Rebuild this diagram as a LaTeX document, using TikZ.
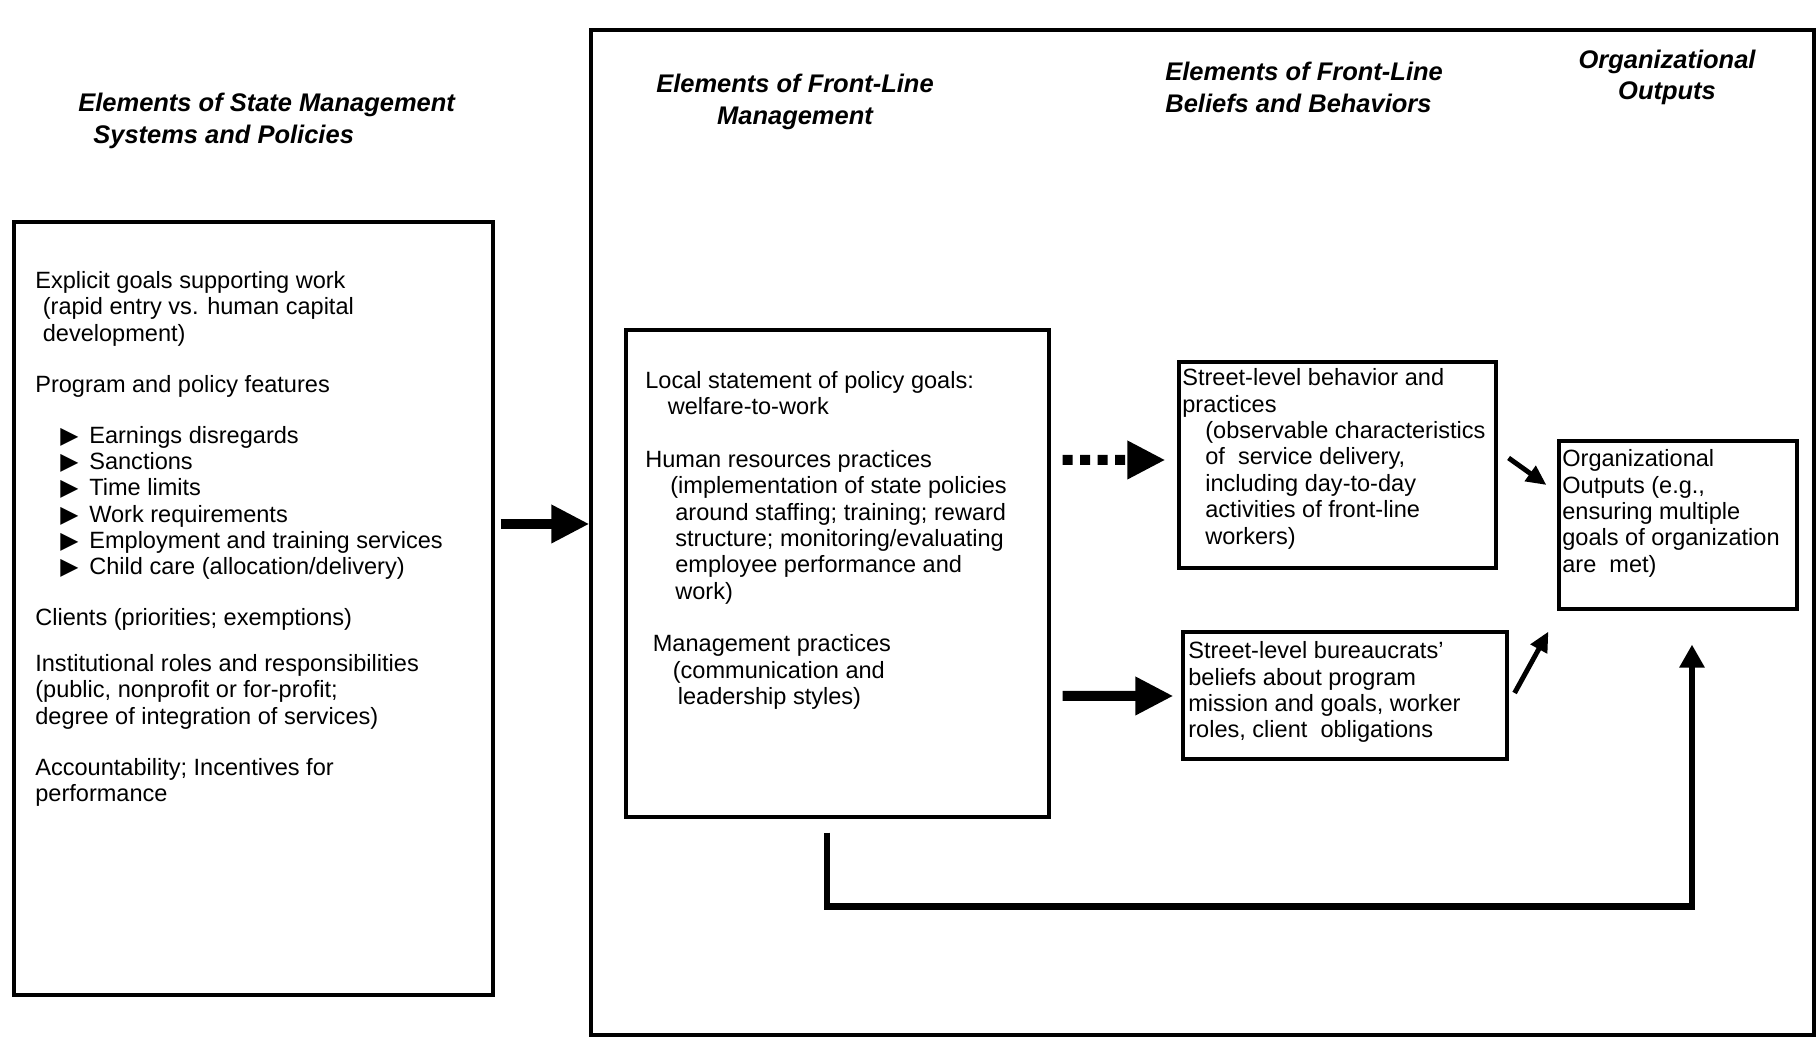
\documentclass[tikz,border=0pt]{standalone}
\usepackage{fontspec}
\setmainfont{Liberation Sans}
\newfontfamily\symfont{DejaVu Sans}
\usetikzlibrary{%
  arrows.meta,%
  calc,%
}

\newcommand{\bodytext}{\fontsize{13.4}{15}\selectfont}
\newcommand{\headtext}{\fontsize{14.5}{18}\selectfont\bfseries\itshape}
\newcommand{\featbullet}{\hspace*{0.5cm}\makebox[0.58cm][l]{\symfont ▶}}
\newcommand{\indby}[1]{\hspace*{#1cm}}

\begin{document}
\begin{tikzpicture}[
    box/.style={draw, line width=1.8pt, inner sep=0pt},
    txt/.style={anchor=north west, align=left, inner sep=0pt, font=\bodytext},
    head/.style={align=center, inner sep=0pt, font=\headtext},
    bigarrow/.style={line width=5.7pt, -{Triangle[length=0.76cm,width=0.72cm]}},
    dotarrow/.style={bigarrow, dash pattern=on 0.2cm off 0.15cm},
    smallarrow/.style={line width=2.8pt, -{Triangle[length=0.4cm,width=0.36cm]}},
    backarrow/.style={line width=3.7pt, -{Triangle[length=0.46cm,width=0.48cm]}},
  ]

      \useasboundingbox (0, 0) rectangle (36.36, 20.94);

      \node[box, minimum width=9.58cm, minimum height=15.46cm] (state) at (5.07, 8.77) {};
      \node[box, minimum width=24.46cm, minimum height=20.1cm] (frontline) at (24.05, 10.29) {};
      \node[box, minimum width=8.46cm, minimum height=9.74cm] (mgmt) at (16.75, 9.47) {};
      \node[box, minimum width=6.34cm, minimum height=4.12cm] (behav) at (26.75, 11.64) {};
      \node[box, minimum width=6.48cm, minimum height=2.54cm] (beliefs) at (26.9, 7.03) {};
      \node[box, minimum width=4.76cm, minimum height=3.36cm] (outputs) at (33.56, 10.44) {};

      \node[head, anchor=north west, align=left] (statehead) at (1.56, 19.08)
        {Elements of State Management\\\indby{0.3}Systems and Policies};
      \node[head] (mgmthead) at (15.9, 18.9) {Elements of Front-Line\\Management};
      \node[head, anchor=north west, align=left] (beliefhead) at (23.3, 19.7)
        {Elements of Front-Line\\Beliefs and Behaviors};
      \node[head] (outhead) at (33.34, 19.39) {Organizational\\Outputs};

      \node[txt] (statetext) at (0.7, 15.52) {Explicit goals supporting work\\
        \indby{0.15}(rapid entry vs. human capital\\
        \indby{0.15}development)\\[14pt]
        Program and policy features\\[14pt]
        \featbullet Earnings disregards\\
        \featbullet Sanctions\\
        \featbullet Time limits\\
        \featbullet Work requirements\\
        \featbullet Employment and training services\\
        \featbullet Child care (allocation/delivery)\\[14pt]
        Clients (priorities; exemptions)\\[11pt]
        Institutional roles and responsibilities\\
        (public, nonprofit or for-profit;\\
        degree of integration of services)\\[14pt]
        Accountability; Incentives for\\
        performance};

      \node[txt] (mgmttext) at (12.9, 13.52) {Local statement of policy goals:\\
        \indby{0.45}welfare-to-work\\[15pt]
        Human resources practices\\
        \indby{0.5}(implementation of state policies\\
        \indby{0.6}around staffing; training; reward\\
        \indby{0.6}structure; monitoring/evaluating\\
        \indby{0.6}employee performance and\\
        \indby{0.6}work)\\[15pt]
        \indby{0.15}Management practices\\
        \indby{0.55}(communication and\\
        \indby{0.65}leadership styles)};

      \node[txt] (behavtext) at (23.64, 13.57) {Street-level behavior and\\
        practices\\
        \indby{0.46}(observable characteristics\\
        \indby{0.46}of\ \ service delivery,\\
        \indby{0.46}including day-to-day\\
        \indby{0.46}activities of front-line\\
        \indby{0.46}workers)};

      \node[txt] (beliefstext) at (23.76, 8.11) {Street-level bureaucrats'\\
        beliefs about program\\
        mission and goals, worker\\
        roles, client\ \ obligations};

      \node[txt] (outputstext) at (31.24, 11.95) {Organizational\\
        Outputs (e.g.,\\
        ensuring multiple\\
        goals of organization\\
        are\ \ met)};

      \draw[bigarrow] ([xshift=0.12cm, yshift=1.69cm]state.east) -- ([yshift=1.69cm]state.east -| frontline.west);
      \draw[dotarrow] ([xshift=0.24cm, yshift=2.27cm]mgmt.east) -- ([xshift=-0.24cm, yshift=0.1cm]behav.west);
      \draw[bigarrow] ([xshift=0.24cm, yshift=-2.45cm]mgmt.east) -- ([xshift=-0.16cm, yshift=-0.01cm]beliefs.west);
      \draw[smallarrow] ([xshift=0.22cm, yshift=0.14cm]behav.east) -- ([xshift=-0.22cm, yshift=0.8cm]outputs.west);
      \draw[smallarrow] ([xshift=0.12cm, yshift=0.05cm]beliefs.east) -- ([xshift=-0.18cm, yshift=-0.42cm]outputs.south west);
      \draw[backarrow] ([xshift=-0.21cm, yshift=-0.28cm]mgmt.south) -- ++(0, -1.48)
        -| ([xshift=0.28cm, yshift=-0.68cm]outputs.south);
    \end{tikzpicture}
\end{document}
